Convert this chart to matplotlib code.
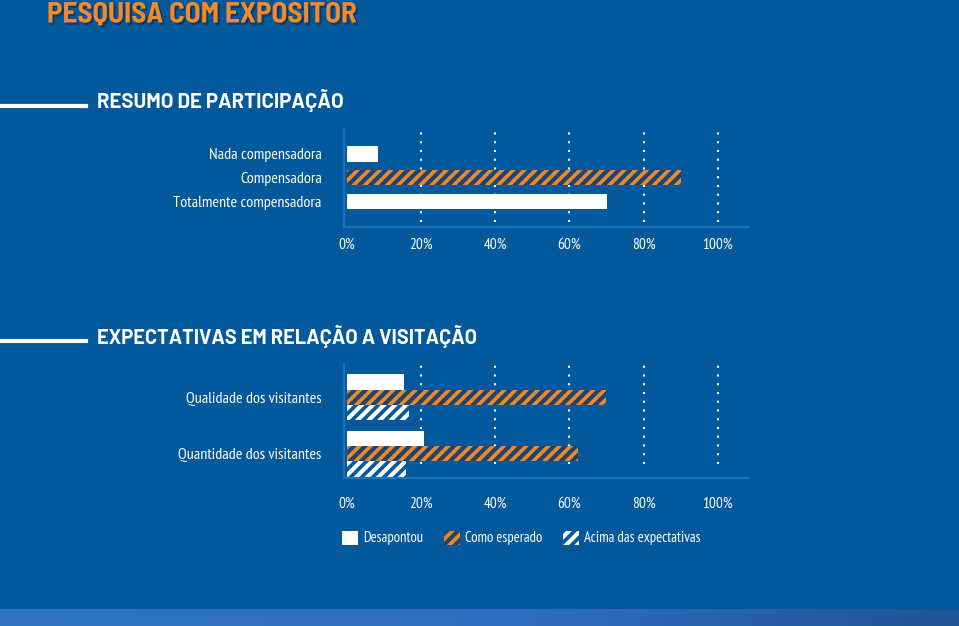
import numpy as np
import matplotlib
matplotlib.use("Agg")
import matplotlib.pyplot as plt
import matplotlib.patheffects as pe
from matplotlib.patches import Patch
from matplotlib.lines import Line2D

# --- DATA ---
resumo_cats = ["Nada compensadora", "Compensadora", "Totalmente compensadora"]
resumo_vals = [8.5, 90.0, 70.0]

expect_cats = ["Qualidade dos visitantes", "Quantidade dos visitantes"]
desapontou = [15.3, 20.7]
como_esperado = [69.8, 62.4]
acima = [16.8, 15.9]

xticks = [0, 20, 40, 60, 80, 100]
xtick_labels = ["0%", "20%", "40%", "60%", "80%", "100%"]

# --- STYLE ---
BG = "#03599b"
AXIS = "#1c73bd"
ORANGE = "#e98a2c"
NAVY = "#1f4470"
FONT = ["PT Sans Narrow", "DejaVu Sans"]
TITLE_FONT = ["Barlow Semi Condensed", "PT Sans Narrow", "DejaVu Sans"]
HEAD_FONT = ["Barlow", "PT Sans Narrow", "DejaVu Sans"]

plt.rcParams["font.family"] = FONT
plt.rcParams["hatch.linewidth"] = 3.0

W, H = 959, 626
fig = plt.figure(figsize=(W / 100, H / 100), dpi=100, facecolor=BG)


def fx(px):
    return px / W


def fy(py):
    return 1 - py / H


def style_axes(ax, grid_bottom, label_pad):
    ax.set_facecolor("none")
    for s in ["top", "right"]:
        ax.spines[s].set_visible(False)
    for s in ["left", "bottom"]:
        ax.spines[s].set_color(AXIS)
        ax.spines[s].set_linewidth(1.6)
    ax.set_xticks(xticks)
    ax.set_xticklabels(xtick_labels)
    ax.tick_params(axis="x", length=0, colors="white", labelsize=11, pad=label_pad)
    ax.tick_params(axis="y", length=0, colors="white", labelsize=11.5, pad=16)
    ax.vlines(xticks[1:], grid_bottom, 0.995, transform=ax.get_xaxis_transform(),
              colors="white", linewidth=1.5, linestyles=(0, (1, 3.2)), zorder=1)


# --- chart 1: resumo de participacao ---
ax1 = fig.add_axes([fx(344), fy(227), fx(749 - 344), (227 - 129) / H])
ax1.set_xlim(-0.8, 108.4)
ax1.set_ylim(3.1, -1.06)
y1 = np.arange(len(resumo_cats))
colors1 = ["white", ORANGE, "white"]
edges1 = ["white", NAVY, "white"]
hatches1 = [None, "///", None]
for i in range(len(resumo_cats)):
    ax1.barh(y1[i], resumo_vals[i], height=0.64, color=colors1[i],
             edgecolor=edges1[i], hatch=hatches1[i], linewidth=0, zorder=2)
ax1.set_yticks(y1)
ax1.set_yticklabels(resumo_cats)
style_axes(ax1, 0.05, 8)

# --- chart 2: expectativas ---
ax2 = fig.add_axes([fx(344), fy(478), fx(749 - 344), (478 - 364) / H])
ax2.set_xlim(-0.8, 108.4)
ax2.set_ylim(1.43, -0.59)
y2 = np.arange(len(expect_cats))
h = 0.272
ax2.barh(y2 - h, desapontou, height=h, color="white", linewidth=0, zorder=2)
ax2.barh(y2, como_esperado, height=h, color=ORANGE, edgecolor=NAVY,
         hatch="///", linewidth=0, zorder=2)
ax2.barh(y2 + h, acima, height=h, color=BG, edgecolor="white",
         hatch="///", linewidth=0, zorder=2)
ax2.set_yticks(y2)
ax2.set_yticklabels(expect_cats)
style_axes(ax2, 0.123, 13.5)

handles = [
    Patch(facecolor="white", edgecolor="white", linewidth=0, label="Desapontou"),
    Patch(facecolor=ORANGE, edgecolor=NAVY, hatch="///", linewidth=0, label="Como esperado"),
    Patch(facecolor=BG, edgecolor="white", hatch="///", linewidth=0, label="Acima das expectativas"),
]
leg = fig.legend(handles=handles, loc="center left", bbox_to_anchor=(fx(342), fy(538)),
                 ncol=3, frameon=False, fontsize=10.5, handlelength=1.1, handleheight=1.1,
                 handletextpad=0.35, columnspacing=1.42, borderpad=0, borderaxespad=0)
for t in leg.get_texts():
    t.set_color("white")

# --- titles ---
fig.text(fx(47), fy(22.5), "PESQUISA COM EXPOSITOR", color="#f2892a", fontsize=21,
         fontweight="bold", family=TITLE_FONT, ha="left", va="baseline",
         path_effects=[pe.withSimplePatchShadow(offset=(1.5, -1.5), shadow_rgbFace="#10253f", alpha=0.6)])

fig.text(fx(97), fy(108.5), "RESUMO DE PARTICIPAÇÃO", color="white", fontsize=14.6,
         fontweight="bold", family=HEAD_FONT, ha="left", va="baseline")
fig.add_artist(Line2D([0, fx(86)], [fy(105.5), fy(105.5)], color="white", linewidth=3))

fig.text(fx(97), fy(343.5), "EXPECTATIVAS EM RELAÇÃO A VISITAÇÃO", color="white", fontsize=14.4,
         fontweight="bold", family=HEAD_FONT, ha="left", va="baseline")
fig.add_artist(Line2D([0, fx(86)], [fy(340.5), fy(340.5)], color="white", linewidth=3))

# --- bottom gradient strip ---
strip = fig.add_axes([0, 0, 1, 17 / H])
strip.axis("off")
c0 = np.array([46, 118, 194]) / 255
c1 = np.array([47, 110, 192]) / 255
c2 = np.array([31, 84, 150]) / 255
t = np.linspace(0, 1, 200)[:, None]
grad = np.where(t < 0.55, c0 + (c1 - c0) * (t / 0.55), c1 + (c2 - c1) * ((t - 0.55) / 0.45))
strip.imshow(grad[None, :, :], aspect="auto", extent=[0, 1, 0, 1])

fig.savefig("out.png", dpi=100, facecolor=BG)
